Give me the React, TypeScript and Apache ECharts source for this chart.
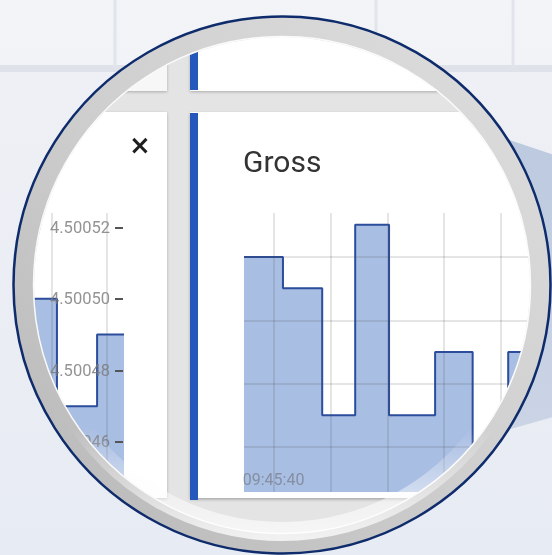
import React, { useEffect, useRef } from 'react';
import * as echarts from 'echarts';

// ---- data ----
const LEFT_T = [25.5, 28.18, 29.64, 30.7];
const LEFT_V = [4.5005, 4.50047, 4.50049, 4.50049];
const LEFT_Y_TICKS = [4.50046, 4.50048, 4.5005, 4.50052];
const LEFT_X_GRID = [28, 30];

const RIGHT_T = [38.96, 40.33, 41.71, 42.87, 44.06, 45.68, 47.0, 48.25, 50.0];
const RIGHT_V = [400, 351, 150, 451, 150, 250, 20, 250, 250];
const RIGHT_X_GRID = [40, 42, 44, 46, 48];
const RIGHT_Y_GRID = [100, 200, 300, 400];
const RIGHT_X_LABELS = [40];
const TITLE = 'Gross';

// ---- lens geometry ----
const CX = 282;
const CY = 285;
const R_OUT = 268.5;
const R_IN = 248;

const FILL = '#a9bee3';
const LINE = '#2b4d9b';
const GRIDLINE = 'rgba(70,70,70,0.14)';

function circleTop(x: number, yMax: number) {
  const dx = x - CX;
  if (Math.abs(dx) >= R_OUT) return yMax;
  return Math.min(yMax, CY - Math.sqrt(R_OUT * R_OUT - dx * dx));
}

function beamPoints() {
  const pts: number[][] = [];
  const a0 = (-35 * Math.PI) / 180;
  const a1 = (34.5 * Math.PI) / 180;
  const n = 16;
  for (let i = 0; i <= n; i++) {
    const a = a0 + ((a1 - a0) * i) / n;
    pts.push([CX + 261 * Math.cos(a), CY + 261 * Math.sin(a)]);
  }
  pts.push([560, 415]);
  pts.push([560, 157]);
  return pts;
}

export default function App() {
  const ref = useRef<HTMLDivElement>(null);

  useEffect(() => {
    if (!ref.current) return;
    const chart = echarts.init(ref.current, undefined, { renderer: 'svg' });

    const timeFmt = (v: number) => '09:45:' + String(Math.round(v)).padStart(2, '0');

    const tileLines = [115, 376, 513].map((x) => ({
      type: 'line',
      z: 101,
      shape: { x1: x, y1: 0, x2: x, y2: circleTop(x, 68) },
      style: { stroke: '#e1e4ea', lineWidth: 3 },
    }));

    const option: any = {
      animation: false,
      backgroundColor: 'transparent',
      title: {
        text: TITLE,
        left: 243,
        top: 146,
        padding: 0,
        textStyle: { fontSize: 30, fontWeight: 'normal', color: '#333', fontFamily: 'Roboto' },
      },
      grid: [
        { left: 0, right: 429, top: 213, bottom: 63 },
        { left: 244, right: 0, top: 213, bottom: 63 },
      ],
      xAxis: [
        {
          gridIndex: 0,
          type: 'value',
          min: 26.109,
          max: 30.582,
          axisLine: { show: false },
          axisTick: { show: false },
          axisLabel: { show: false },
          splitLine: { show: false },
        },
        {
          gridIndex: 1,
          type: 'value',
          z: 10,
          min: 38.96,
          max: 49.79,
          axisLine: { show: false },
          axisTick: { show: false },
          splitLine: { show: false },
          axisLabel: {
            inside: true,
            customValues: RIGHT_X_LABELS,
            formatter: timeFmt,
            color: 'rgba(95,95,95,0.5)',
            fontSize: 16,
            fontFamily: 'Roboto',
            margin: 5,
          },
        },
      ],
      yAxis: [
        {
          gridIndex: 0,
          type: 'value',
          z: 10,
          position: 'right',
          min: 4.500446,
          max: 4.500524,
          axisLine: { show: false },
          splitLine: { show: false },
          axisTick: {
            show: true,
            inside: true,
            length: 8,
            customValues: LEFT_Y_TICKS,
            lineStyle: { color: '#555', width: 2 },
          },
          axisLabel: {
            inside: true,
            customValues: LEFT_Y_TICKS,
            formatter: (v: number) => v.toFixed(5),
            color: 'rgba(120,120,120,0.8)',
            fontSize: 16.5,
            fontFamily: 'Roboto',
            margin: 13,
          },
        },
        {
          gridIndex: 1,
          type: 'value',
          min: 28.9,
          max: 469.7,
          axisLine: { show: false },
          axisTick: { show: false },
          axisLabel: { show: false },
          splitLine: { show: false },
        },
      ],
      series: [
        {
          type: 'line',
          xAxisIndex: 0,
          yAxisIndex: 0,
          step: 'end',
          symbol: 'none',
          data: LEFT_T.map((t, i) => [t, LEFT_V[i]]),
          lineStyle: { color: LINE, width: 2 },
          areaStyle: { color: FILL, opacity: 1, origin: 'start' },
          markLine: {
            silent: true,
            symbol: ['none', 'none'],
            label: { show: false },
            lineStyle: { color: GRIDLINE, width: 2, type: 'solid' },
            data: LEFT_X_GRID.map((x) => ({ xAxis: x })),
          },
        },
        {
          type: 'line',
          xAxisIndex: 1,
          yAxisIndex: 1,
          step: 'end',
          symbol: 'none',
          data: RIGHT_T.map((t, i) => [t, RIGHT_V[i]]),
          lineStyle: { color: LINE, width: 2 },
          areaStyle: { color: FILL, opacity: 1, origin: 'start' },
          markLine: {
            silent: true,
            symbol: ['none', 'none'],
            label: { show: false },
            lineStyle: { color: GRIDLINE, width: 2, type: 'solid' },
            data: [
              ...RIGHT_X_GRID.map((x) => ({ xAxis: x })),
              ...RIGHT_Y_GRID.map((y) => ({ yAxis: y })),
            ],
          },
        },
      ],
      graphic: {
        elements: [
          // magnified dashboard background
          { type: 'rect', z: 0, shape: { x: 0, y: 0, width: 552, height: 555 }, style: { fill: '#e4e4e4' } },
          { type: 'rect', z: 0, shape: { x: -10, y: -10, width: 177, height: 101 }, style: { fill: '#f7f7f7', shadowBlur: 3, shadowColor: 'rgba(0,0,0,0.25)', shadowOffsetY: 1 } },
          { type: 'rect', z: 0, shape: { x: 190, y: -10, width: 420, height: 101 }, style: { fill: '#ffffff', shadowBlur: 3, shadowColor: 'rgba(0,0,0,0.25)', shadowOffsetY: 1 } },
          { type: 'rect', z: 0, shape: { x: -10, y: 112, width: 177, height: 386 }, style: { fill: '#ffffff', shadowBlur: 3, shadowColor: 'rgba(0,0,0,0.25)', shadowOffsetY: 1 } },
          { type: 'rect', z: 0, shape: { x: 190, y: 112, width: 420, height: 386 }, style: { fill: '#ffffff', shadowBlur: 3, shadowColor: 'rgba(0,0,0,0.28)', shadowOffsetY: 1.5 } },
          { type: 'rect', z: 1, shape: { x: 190, y: -10, width: 8, height: 100 }, style: { fill: '#2459bb' } },
          { type: 'rect', z: 1, shape: { x: 190, y: 113, width: 8, height: 387 }, style: { fill: '#2459bb' } },
          {
            type: 'text',
            z: 1,
            x: 140,
            y: 145,
            style: { text: '×', fill: '#1e1e1e', font: 'bold 26px "DejaVu Sans"', align: 'center', verticalAlign: 'middle' },
          },
          // mask outside the lens
          {
            type: 'ring',
            z: 100,
            shape: { cx: CX, cy: CY, r: 1200, r0: R_OUT - 1 },
            style: {
              fill: {
                type: 'linear',
                x: 0,
                y: 0,
                x2: 0,
                y2: 555,
                global: true,
                colorStops: [
                  { offset: 0, color: '#f2f4f8' },
                  { offset: 0.117, color: '#f1f3f7' },
                  { offset: 0.117, color: '#dfe2e8' },
                  { offset: 0.13, color: '#dfe2e8' },
                  { offset: 0.13, color: '#eef0f5' },
                  { offset: 1, color: '#e7ebf3' },
                ],
              },
            },
          },
          ...tileLines,
          // light beam
          {
            type: 'polygon',
            z: 101,
            shape: { points: beamPoints() },
            style: {
              fill: {
                type: 'linear',
                x: 0,
                y: 0,
                x2: 0,
                y2: 1,
                colorStops: [
                  { offset: 0, color: '#bccadf' },
                  { offset: 1, color: '#cbd4e5' },
                ],
              },
            },
          },
          // lens ring
          {
            type: 'ring',
            z: 102,
            shape: { cx: CX, cy: CY, r: R_OUT, r0: R_IN },
            style: {
              fill: {
                type: 'linear',
                x: 1,
                y: 0,
                x2: 0,
                y2: 1,
                colorStops: [
                  { offset: 0, color: '#dedede' },
                  { offset: 0.5, color: '#cfcfcf' },
                  { offset: 1, color: '#b6b6b6' },
                ],
              },
            },
          },
          {
            type: 'ring',
            z: 103,
            shape: { cx: CX, cy: CY, r: 256, r0: 237 },
            style: {
              fill: {
                type: 'linear',
                x: 0,
                y: 0,
                x2: 0,
                y2: 1,
                colorStops: [
                  { offset: 0, color: 'rgba(255,255,255,0)' },
                  { offset: 0.78, color: 'rgba(255,255,255,0)' },
                  { offset: 1, color: 'rgba(250,250,250,0.85)' },
                ],
              },
            },
          },
          {
            type: 'circle',
            z: 103,
            shape: { cx: CX, cy: CY, r: R_IN + 0.5 },
            style: { fill: 'none', stroke: 'rgba(255,255,255,0.9)', lineWidth: 1.5 },
          },
          {
            type: 'circle',
            z: 104,
            shape: { cx: CX, cy: CY, r: R_OUT },
            style: { fill: 'none', stroke: '#0e2b6c', lineWidth: 2.5 },
          },
        ],
      },
    };

    chart.setOption(option);
    return () => chart.dispose();
  }, []);

  return (
    <div
      ref={ref}
      style={{ position: 'fixed', left: 0, top: 0, width: 552, height: 555 }}
    />
  );
}
